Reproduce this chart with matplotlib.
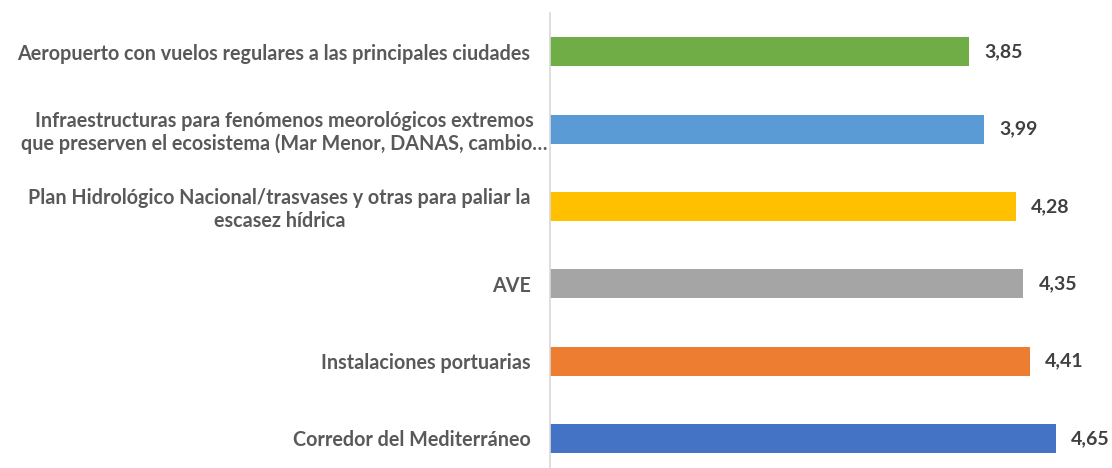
import matplotlib.pyplot as plt
from matplotlib.transforms import ScaledTranslation

categories = [
    "Corredor del Mediterráneo",
    "Instalaciones portuarias",
    "AVE",
    "Plan Hidrológico Nacional/trasvases y otras para paliar la\nescasez hídrica",
    "Infraestructuras para fenómenos meorológicos extremos\nque preserven el ecosistema (Mar Menor, DANAS, cambio…",
    "Aeropuerto con vuelos regulares a las principales ciudades",
]
values = [4.65, 4.41, 4.35, 4.28, 3.99, 3.85]
colors = ["#4472C4", "#ED7D31", "#A5A5A5", "#FFC000", "#5B9BD5", "#70AD47"]

plt.rcParams['font.family'] = ['Lato', 'DejaVu Sans']

fig = plt.figure(figsize=(11.12, 4.68), dpi=100)
ax = fig.add_axes([550 / 1112, -9 / 468, 562 / 1112, 464 / 468])

pos = range(len(categories))
ax.barh(pos, values, height=0.375, color=colors)
ax.set_ylim(-0.5, len(categories) - 0.5)
ax.set_xlim(0, 562 / 108.8)

for y, v in zip(pos, values):
    ax.text(v + 0.14, y, f"{v:.2f}".replace(".", ","), va="center", ha="left",
            fontsize=14, fontweight="bold", color="#404040")

ax.set_yticks(list(pos))
ax.set_yticklabels(categories, fontsize=14.2, fontweight="bold", color="#595959",
                   multialignment="center", linespacing=1.15)
ax.tick_params(axis="y", length=0, pad=14)
ax.set_xticks([])
for s in ["top", "right", "bottom"]:
    ax.spines[s].set_visible(False)
ax.spines["left"].set_color("#D9D9D9")
ax.spines["left"].set_linewidth(1.2)

# the long label overflows to the right, as in the original
lab = ax.get_yticklabels()[4]
lab.set_transform(lab.get_transform() + ScaledTranslation(0.17, 0, fig.dpi_scale_trans))

fig.savefig("out.png", dpi=100)
